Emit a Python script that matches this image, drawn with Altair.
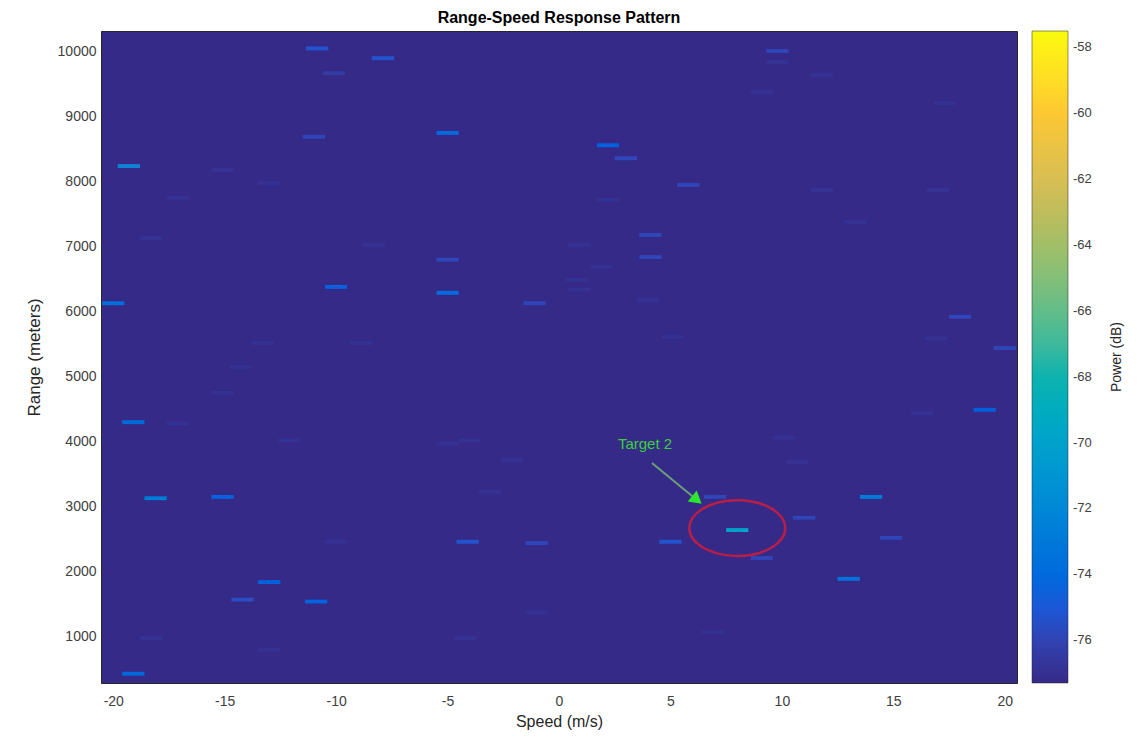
import altair as alt
import pandas as pd

# ---- heat-map returns (speed m/s, range m, power dB) ----
speed = [-19.3, -20.0, -19.1, -18.1, -15.1, -19.1, -13.0, -14.2, -10.9, -10.0,
         -5.0, -5.0, -5.0, -10.85, -7.9, -10.1, -11.0, -4.1, -1.0, 2.2,
         3.0, 5.0, 7.0, 8.0, 9.1, 9.8, 14.0, 13.0, 11.0, 19.1,
         5.8, 4.1, 4.1, -1.1, 18.0, 20.0, 14.9,
         -15.1, -13.0, -17.1, -18.3, -8.3, -13.3, -8.9, 9.8, 11.8, 9.1,
         17.3, 11.8, 17.0, 2.2, 13.3, 0.9, 1.9, 0.8, 0.9, 4.0,
         5.1, 16.9, -14.3, -15.1, -17.1, -12.1, -5.0, -4.0, -2.1, -3.1,
         -10.0, -1.0, -4.2, -18.3, -13.0, 16.3, 10.1, 10.7, 6.9]
rng = [8230, 6120, 4290, 3120, 3140, 420, 1830, 1560, 1530, 6370,
       8740, 6280, 6790, 10040, 9890, 9660, 8680, 2450, 2430, 8550,
       8350, 2450, 3140, 2630, 2200, 10000, 3140, 1880, 2820, 4480,
       7940, 7170, 6830, 6120, 5910, 5430, 2510,
       8170, 7970, 7740, 7120, 7020, 5510, 5510, 9830, 9630, 9370,
       9200, 7860, 7860, 7710, 7370, 7020, 6680, 6480, 6330, 6170,
       5600, 5580, 5140, 4740, 4270, 4010, 3960, 4010, 3710, 3220,
       2450, 1360, 970, 970, 790, 4430, 4050, 3680, 1060]
power = [-72.3, -73.8, -74.0, -72.8, -74.5, -74.0, -74.5, -75.6, -74.5, -74.6,
         -73.9, -73.9, -75.8, -75.2, -75.2, -76.4, -75.9, -75.2, -75.8, -74.6,
         -75.8, -75.2, -75.9, -70.0, -75.9, -75.9, -72.8, -73.4, -75.9, -74.6,
         -75.9, -75.9, -75.9, -75.9, -75.9, -75.9, -75.9,
         -76.9, -76.9, -76.9, -76.9, -76.9, -76.9, -76.9, -76.9, -76.9, -76.9,
         -76.9, -76.9, -76.9, -76.9, -76.9, -76.9, -76.9, -76.9, -76.9, -76.9,
         -76.9, -76.9, -76.9, -76.9, -76.9, -76.9, -76.9, -76.9, -76.9, -76.9,
         -76.9, -76.9, -76.9, -76.9, -76.9, -76.9, -76.9, -76.9, -76.9]

# ---- annotation ----
label_text = ["Target 2"]
label_speed = [3.86]
label_range = [3954]
arrow_speed = [4.17]
arrow_range = [3662]
arrow_speed2 = [6.19]
arrow_range2 = [3093]
ellipse_speed = [8.0]
ellipse_range = [2660]
cbar_title = ["Power (dB)"]

x_ticks = [-20, -15, -10, -5, 0, 5, 10, 15, 20]
y_ticks = [1000, 2000, 3000, 4000, 5000, 6000, 7000, 8000, 9000, 10000]
cbar_ticks = [-76, -74, -72, -70, -68, -66, -64, -62, -60, -58]

x_domain = [-20.55, 20.55]
y_domain = [277, 10308]
c_domain = [-77.3, -74.825, -72.35, -69.875, -67.4, -64.925, -62.45, -59.975, -57.5]
parula = ["#352a87", "#0f5cdd", "#1481d6", "#06a4ca", "#2eb7a4",
          "#87bf77", "#d1bb59", "#fec832", "#f9fb0e"]

FONT = "Liberation Sans"
PLAIN = "'' + datum.value"

xaxis = alt.Axis(values=x_ticks, ticks=False, domain=False, grid=False,
                 labelExpr=PLAIN,
                 labelFontSize=14, labelColor="#404040", labelFont=FONT,
                 labelPadding=11, titleFontSize=16, titleColor="#262626",
                 titleFont=FONT, titleFontWeight="normal", titlePadding=5)
yaxis = alt.Axis(values=y_ticks, ticks=False, domain=False, grid=False,
                 labelExpr=PLAIN,
                 labelFontSize=14, labelColor="#404040", labelFont=FONT,
                 labelPadding=5, titleFontSize=17, titleColor="#262626",
                 titleFont=FONT, titleFontWeight="normal", titlePadding=14)
xs = alt.Scale(domain=x_domain, nice=False, zero=False)
ys = alt.Scale(domain=y_domain, nice=False, zero=False)

df = pd.DataFrame({"speed": speed, "range": rng, "power": power})

heat = alt.Chart(df).transform_calculate(
    s0="datum.speed - 0.5", s1="datum.speed + 0.5",
    r0="datum.range - 30", r1="datum.range + 30",
).mark_rect().encode(
    x=alt.X("s0:Q", scale=xs, axis=xaxis, title="Speed (m/s)"),
    x2="s1:Q",
    y=alt.Y("r0:Q", scale=ys, axis=yaxis, title="Range (meters)"),
    y2="r1:Q",
    color=alt.Color("power:Q",
                    scale=alt.Scale(domain=c_domain, range=parula, clamp=True),
                    legend=alt.Legend(title=None, values=cbar_ticks,
                                      orient="right", offset=15,
                                      labelExpr=PLAIN,
                                      gradientLength=652, gradientThickness=36,
                                      gradientStrokeColor="#262626",
                                      gradientStrokeWidth=0.5,
                                      labelFontSize=13, labelColor="#404040",
                                      labelFont=FONT, labelOffset=5,
                                      direction="vertical")),
)

ell_df = pd.DataFrame({"speed": ellipse_speed, "range": ellipse_range})
ellipse_path = ("M -1 0 C -1 -0.32 -0.5523 -0.58 0 -0.58 C 0.5523 -0.58 1 -0.32 1 0 "
                "C 1 0.32 0.5523 0.58 0 0.58 C -0.5523 0.58 -1 0.32 -1 0 Z")
ellipse = alt.Chart(ell_df).mark_point(
    shape=ellipse_path, size=9216, filled=False, stroke="#b81e48",
    strokeWidth=2.5, opacity=1
).encode(
    x=alt.X("speed:Q", scale=xs, axis=xaxis, title="Speed (m/s)"),
    y=alt.Y("range:Q", scale=ys, axis=yaxis, title="Range (meters)"),
)

arr_df = pd.DataFrame({"speed": arrow_speed, "range": arrow_range,
                       "speed2": arrow_speed2, "range2": arrow_range2})
shaft = alt.Chart(arr_df).mark_rule(color="#6a9f7a", strokeWidth=2).encode(
    x=alt.X("speed:Q", scale=xs, axis=xaxis, title="Speed (m/s)"),
    x2="speed2:Q",
    y=alt.Y("range:Q", scale=ys, axis=yaxis, title="Range (meters)"),
    y2="range2:Q",
)
head = alt.Chart(arr_df).mark_point(
    shape="triangle-right", size=200, filled=True, color="#2ee62e",
    angle=39.4, opacity=1
).encode(
    x=alt.X("speed2:Q", scale=xs, axis=xaxis, title="Speed (m/s)"),
    y=alt.Y("range2:Q", scale=ys, axis=yaxis, title="Range (meters)"),
)

lab_df = pd.DataFrame({"speed": label_speed, "range": label_range, "txt": label_text})
label = alt.Chart(lab_df).mark_text(
    color="#3ccf3c", fontSize=15, font=FONT, align="center", baseline="middle"
).encode(
    x=alt.X("speed:Q", scale=xs, axis=xaxis, title="Speed (m/s)"),
    y=alt.Y("range:Q", scale=ys, axis=yaxis, title="Range (meters)"),
    text="txt:N",
)

# colorbar title, rotated to read bottom-to-top, placed right of the colorbar labels
cb_df = pd.DataFrame({"txt": cbar_title})
cb_title = alt.Chart(cb_df).mark_text(
    angle=270, fontSize=14, font=FONT, color="#262626",
    align="center", baseline="middle"
).encode(
    x=alt.value(1016), y=alt.value(326), text="txt:N",
)

chart = alt.layer(heat, ellipse, shaft, head, label, cb_title).properties(
    width=916, height=652,
    title=alt.TitleParams("Range-Speed Response Pattern", fontSize=16,
                          font=FONT, fontWeight="bold", color="#000000",
                          anchor="middle", offset=5),
    autosize=alt.AutoSizeParams(type="none"),
    padding={"left": 93, "top": 23, "right": 119, "bottom": 50},
).configure_view(fill="#352a87", stroke="#262626", strokeWidth=1)

chart.save("out.html", embed_options={"renderer": "svg", "actions": False})
